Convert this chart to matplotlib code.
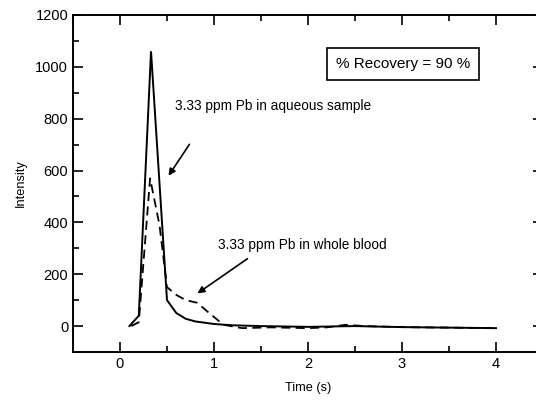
import matplotlib
matplotlib.use("Agg")
import matplotlib.pyplot as plt
from matplotlib.ticker import MultipleLocator

plt.rcParams['font.family'] = ['Liberation Sans', 'DejaVu Sans']

# Aqueous sample (solid)
aq_time = [0.10, 0.20, 0.33, 0.50, 0.60, 0.70, 0.80, 1.00, 1.20, 1.50, 2.00, 2.50, 3.00, 3.50, 4.00]
aq_int = [0, 40, 1060, 100, 50, 28, 18, 8, 3, 0, -3, 0, -4, -6, -8]

# Whole blood (dashed)
bl_time = [0.12, 0.20, 0.32, 0.42, 0.50, 0.60, 0.70, 0.82, 0.95, 1.10, 1.30, 1.60, 2.00, 2.20, 2.40, 2.60, 3.00, 3.50, 4.00]
bl_int = [0, 15, 570, 390, 150, 120, 100, 90, 50, 5, -8, -5, -8, -5, 5, 0, -4, -6, -8]

x_ticks = [0, 1, 2, 3, 4]
y_ticks = [0, 200, 400, 600, 800, 1000, 1200]

fig = plt.figure(figsize=(5.36, 4.01), dpi=100)
ax = fig.add_axes([73/536, 1 - 352/401, 470/536, 337/401])

ax.plot(aq_time, aq_int, color='black', lw=1.4, solid_joinstyle='miter')
ax.plot(bl_time, bl_int, color='black', lw=1.3, ls=(0, (5, 3)))

ax.set_xlim(-0.5, 4.5)
ax.set_ylim(-100, 1200)
ax.set_xticks(x_ticks)
ax.set_yticks(y_ticks)
ax.xaxis.set_minor_locator(MultipleLocator(0.5))
ax.yaxis.set_minor_locator(MultipleLocator(100))
ax.tick_params(which='both', direction='in', top=True, right=True, labelsize=10.5, width=1.2)
ax.tick_params(which='major', length=7)
ax.tick_params(which='minor', length=4)
for s in ax.spines.values():
    s.set_linewidth(1.4)

ax.set_xlabel('Time (s)', fontsize=9.2, labelpad=8)
ax.set_ylabel('Intensity', fontsize=9.2, labelpad=6)

ax.annotate('3.33 ppm Pb in aqueous sample', xy=(0.50, 571), xytext=(0.585, 850),
            fontsize=9.8, ha='left', va='center')
ax.annotate('', xy=(0.50, 571), xytext=(0.755, 710),
            arrowprops=dict(arrowstyle='-|>', color='black', lw=1.2, mutation_scale=10))
ax.annotate('3.33 ppm Pb in whole blood', xy=(0.80, 120), xytext=(1.04, 313),
            fontsize=9.8, ha='left', va='center')
ax.annotate('', xy=(0.80, 120), xytext=(1.38, 266),
            arrowprops=dict(arrowstyle='-|>', color='black', lw=1.2, mutation_scale=10))

ax.text(3.01, 1012, '% Recovery = 90 %', fontsize=11, ha='center', va='center',
        bbox=dict(boxstyle='square,pad=0.6', facecolor='white', edgecolor='black', lw=1.2))

fig.savefig('out.png', dpi=100)
